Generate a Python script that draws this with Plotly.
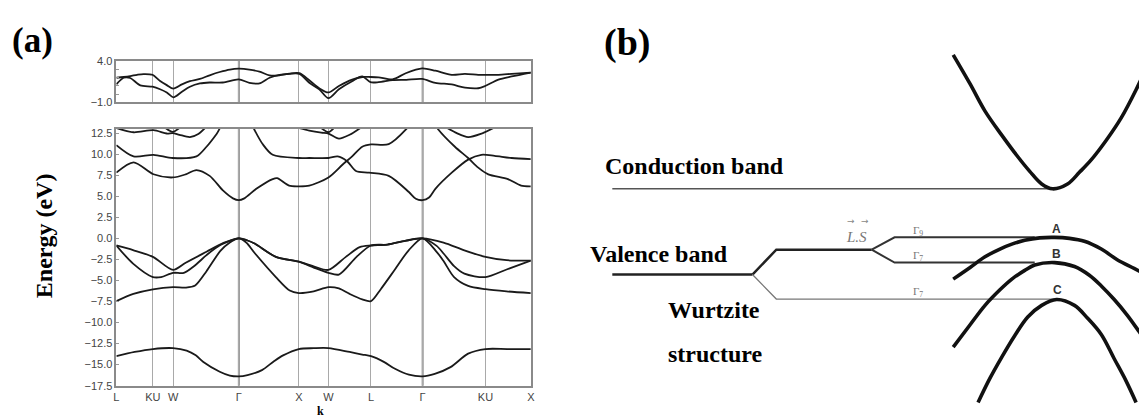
import plotly.graph_objects as go

# ---------------- Panel (a) data ----------------
K_END = 6.574
k_ticks = [0, 0.58, 0.902, 1.942, 2.894, 3.364, 4.039, 4.858, 5.855, 6.574]
k_labels = ["L", "KU", "W", "Γ", "X", "W", "L", "Γ", "KU", "X"]
gamma_k = [1.942, 4.858]

# lower panel: valence s-band
s_k = [0, 0.29, 0.58, 0.90, 1.115, 1.26, 1.38, 1.64, 1.80, 1.942, 2.08, 2.31, 2.50, 2.645, 2.894, 3.13,
       3.364, 3.70, 3.90, 4.039, 4.25, 4.42, 4.64, 4.858, 5.05, 5.30, 5.58, 5.855, 6.20, 6.574]
s_e = [-14.0, -13.5, -13.15, -13.04, -13.34, -13.9, -14.68, -15.84, -16.3, -16.4, -16.25, -15.65, -14.6,
       -13.9, -13.15, -13.05, -13.04, -13.5, -13.8, -14.0, -14.7, -15.5, -16.2, -16.4, -16.1, -15.3,
       -13.7, -13.15, -13.15, -13.15]

v1_k = [0, 0.27, 0.58, 0.90, 1.10, 1.25, 1.43, 1.65, 1.80, 1.942, 2.06, 2.20, 2.53, 2.75, 2.894, 3.13,
        3.364, 3.53, 3.70, 3.90, 4.039, 4.194, 4.416, 4.637, 4.858, 5.08, 5.19, 5.357, 5.58, 5.855, 6.19, 6.574]
v1_e = [-7.46, -6.6, -6.05, -5.8, -5.85, -5.6, -3.9, -1.5, -0.5, 0, -0.5, -1.8, -4.6, -6.2, -6.5, -6.3,
        -5.8, -5.95, -6.6, -7.25, -7.46, -6.04, -3.73, -1.42, 0, -1.6, -2.7, -4.6, -5.65, -6.04, -6.3, -6.5]

v2_k = [0, 0.265, 0.58, 0.71, 0.90, 1.07, 1.25, 1.43, 1.65, 1.942, 2.06, 2.20, 2.53, 2.894, 3.14, 3.364,
        3.53, 3.81, 4.039, 4.30, 4.58, 4.858, 5.08, 5.19, 5.357, 5.52, 5.855, 6.19, 6.574]
v2_e = [-0.85, -3.0, -4.6, -4.6, -4.1, -4.1, -3.2, -2.0, -0.8, 0, -0.2, -0.65, -2.2, -2.77, -3.5, -4.1,
        -4.3, -2.2, -0.85, -0.75, -0.3, 0, -0.9, -1.8, -3.3, -4.2, -4.6, -3.7, -2.65]

v3_k = [0, 0.265, 0.58, 0.90, 1.10, 1.43, 1.70, 1.942, 2.06, 2.20, 2.53, 2.894, 3.14, 3.364, 3.64, 3.86,
        4.039, 4.30, 4.58, 4.858, 5.19, 5.52, 5.855, 6.19, 6.574]
v3_e = [-0.85, -1.4, -2.2, -3.75, -2.9, -1.6, -0.55, 0, -0.2, -0.65, -2.2, -2.77, -3.35, -3.75, -2.2, -1.05,
        -0.85, -0.75, -0.3, 0, -0.5, -1.42, -2.2, -2.6, -2.65]

# lower panel: conduction bands
c1_k = [0, 0.273, 0.589, 0.894, 1.10, 1.27, 1.48, 1.69, 1.85, 1.942, 2.03, 2.22, 2.48, 2.55, 2.74, 2.894,
        3.06, 3.364, 3.59, 3.74, 3.90, 4.039, 4.32, 4.59, 4.70]
c1_e = [7.8, 9.03, 7.61, 7.23, 7.6, 8.11, 7.42, 5.69, 4.75, 4.53, 4.75, 5.88, 7.04, 7.15, 6.26, 6.18,
        6.26, 7.23, 8.77, 9.73, 10.88, 11.15, 11.19, 12.9, 14.0]

c2_k = [0, 0.273, 0.589, 0.894, 1.27, 1.43, 1.59, 1.70, 2.12, 2.19, 2.32, 2.48, 2.894, 3.06, 3.364, 3.51,
        3.66, 3.80, 4.01, 4.32, 4.64, 4.75, 4.858, 4.96, 5.06, 5.32, 5.58, 5.79, 6.0, 6.27, 6.574]
c2_e = [11.07, 9.73, 9.92, 9.54, 9.73, 10.88, 12.4, 13.6, 14.0, 12.9, 11.2, 9.92, 9.54, 9.54, 9.54, 9.73,
        9.16, 8.0, 7.8, 7.42, 5.5, 4.7, 4.53, 4.85, 5.88, 7.8, 9.35, 9.92, 9.8, 9.54, 9.42]

c4_k = [5.02, 5.11, 5.37, 5.58, 5.74, 5.90, 6.21, 6.42, 6.574]
c4_e = [14.0, 12.9, 10.88, 9.54, 8.4, 7.6, 7.04, 6.26, 6.18]

c3a_k = [0, 0.273, 0.589, 0.80, 0.894, 1.0, 1.167, 1.30, 1.42]
c3a_e = [13.1, 12.6, 12.85, 12.45, 12.5, 12.3, 12.03, 12.4, 13.2]
c3b_k = [0.78, 0.894, 1.0]
c3b_e = [13.1, 12.65, 13.1]
c3c_k = [2.90, 3.06, 3.25, 3.364, 3.53, 3.70, 3.87]
c3c_e = [13.1, 12.8, 12.55, 12.45, 11.85, 12.3, 13.1]
c3d_k = [3.25, 3.364, 3.45]
c3d_e = [13.1, 12.6, 13.1]
c3e_k = [5.25, 5.40, 5.58, 5.78, 5.98]
c3e_e = [13.1, 12.5, 12.03, 12.4, 13.1]

# upper small panel
t_hi_k = [0, 0.116, 0.22, 0.33, 0.43, 0.573, 0.694, 0.80, 0.904, 1.04, 1.167, 1.325, 1.48, 1.64, 1.80,
          1.94, 2.11, 2.27, 2.43, 2.587, 2.745, 2.903, 3.06, 3.218, 3.364, 3.53, 3.74, 3.90, 4.03, 4.16,
          4.38, 4.59, 4.85, 5.06, 5.32, 5.53, 5.74, 5.85, 6.06, 6.27, 6.574]
t_hi_e = [2.0, 2.09, 2.2, 2.36, 2.45, 2.36, 1.6, 1.1, 0.68, 1.2, 1.58, 1.85, 2.3, 2.7, 3.0, 3.1, 3.0,
          2.75, 2.3, 2.3, 2.5, 2.55, 1.7, 0.72, 0.21, 1.0, 1.77, 2.09, 2.09, 2.05, 1.8, 2.55, 3.14, 2.86,
          2.36, 2.47, 2.36, 2.36, 2.36, 2.47, 2.63]
t_lo_k = [0, 0.116, 0.22, 0.38, 0.573, 0.694, 0.80, 0.904, 1.04, 1.167, 1.325, 1.48, 1.69, 1.94, 2.11,
          2.27, 2.43, 2.587, 2.745, 2.903, 3.06, 3.218, 3.364, 3.53, 3.74, 3.90, 4.03, 4.16, 4.38, 4.60,
          4.85, 5.06, 5.32, 5.53, 5.74, 5.85, 6.06, 6.27, 6.574]
t_lo_e = [1.2, 2.0, 1.97, 1.07, 0.91, 0.6, 0.2, -0.38, 0.3, 0.9, 1.3, 1.42, 1.42, 1.81, 1.38, 1.3, 2.0,
          2.35, 2.47, 2.47, 1.38, 0.6, -0.49, 0.6, 1.58, 2.16, 1.46, 1.46, 1.7, 1.75, 1.85, 1.38, 1.18,
          0.79, 0.72, 0.99, 1.77, 2.16, 2.63]

e_ticks = [12.5, 10.0, 7.5, 5.0, 2.5, 0.0, -2.5, -5.0, -7.5, -10.0, -12.5, -15.0, -17.5]
top_ticks = [-1, 4]
top_labels = ["−1.0", "4.0"]
top_minor_ticks = [0, 1, 2, 3]

# ---------------- Panel (b) schematic (drawing units) ----------------
cb_level_x = [605, 1048]
cb_level_y = [180, 180]
cb_curve_x = [948, 965, 980, 997, 1013, 1025, 1037, 1048, 1063, 1075, 1087, 1102, 1117, 1132, 1147]
cb_curve_y = [42, 72, 100, 125, 147, 162, 175, 180, 175, 163, 150, 130, 107, 78, 45]

vb_left_x = [605, 746]
vb_left_y = [268.3, 268.3]
vb_up_x = [746, 770, 866]
vb_up_y = [268.3, 242.7, 242.7]
g9_x = [866, 889, 1030]
g9_y = [242.7, 230, 230]
g7a_x = [866, 889, 1030]
g7a_y = [242.7, 256, 256]
g7b_x = [746, 770, 1050]
g7b_y = [268.3, 293.5, 293.5]

a_x = [948, 965, 980, 995, 1007, 1020, 1035, 1050, 1065, 1080, 1097, 1113, 1130, 1147]
a_y = [273, 261, 250, 242, 237, 233, 230.5, 230, 231, 234, 242, 253, 262, 271]
b_x = [948, 965, 980, 995, 1007, 1020, 1030, 1050, 1070, 1085, 1097, 1110, 1123, 1135, 1147]
b_y = [343, 320, 300, 284, 273, 264, 258.5, 256, 260, 269, 280, 294, 310, 327, 345]
c_x = [973, 985, 997, 1010, 1023, 1037, 1052, 1070, 1083, 1097, 1110, 1122, 1132]
c_y = [400, 375, 353, 331, 312, 300, 294, 300, 313, 330, 355, 378, 400]

W, H = 1147, 416
BAND = "#1a1a1a"
SERIF = "Liberation Serif, Times New Roman, serif"
SANS = "Liberation Sans, Arial, sans-serif"

fig = go.Figure()


def band(k, e, xa, ya):
    fig.add_trace(go.Scatter(x=k, y=e, mode="lines", xaxis=xa, yaxis=ya,
                             line=dict(color=BAND, width=1.8, shape="spline", smoothing=0.8),
                             hoverinfo="skip", showlegend=False))


for kk, ee in [(s_k, s_e), (v1_k, v1_e), (v2_k, v2_e), (v3_k, v3_e), (c1_k, c1_e), (c2_k, c2_e),
               (c4_k, c4_e), (c3a_k, c3a_e), (c3b_k, c3b_e), (c3c_k, c3c_e), (c3d_k, c3d_e),
               (c3e_k, c3e_e)]:
    band(kk, ee, "x", "y")
for kk, ee in [(t_hi_k, t_hi_e), (t_lo_k, t_lo_e)]:
    band(kk, ee, "x2", "y2")


def line_b(x, y, width, color, spline=False):
    fig.add_trace(go.Scatter(x=x, y=y, mode="lines", xaxis="x3", yaxis="y3",
                             line=dict(color=color, width=width,
                                       shape="spline" if spline else "linear"),
                             hoverinfo="skip", showlegend=False))


line_b(cb_level_x, cb_level_y, 1.5, "#555555")
line_b(vb_left_x, vb_left_y, 2.5, "#222222")
line_b(vb_up_x, vb_up_y, 2.5, "#222222")
line_b(g9_x, g9_y, 2.0, "#333333")
line_b(g7a_x, g7a_y, 2.0, "#333333")
line_b(g7b_x, g7b_y, 1.3, "#777777")
for xx, yy in [(cb_curve_x, cb_curve_y), (a_x, a_y), (b_x, b_y), (c_x, c_y)]:
    line_b(xx, yy, 3.6, "#111111", spline=True)

x_dom = [106 / W, 523 / W]
frame = dict(showline=True, linecolor="#8a8a8a", linewidth=1.5, mirror=True, zeroline=False)

fig.update_layout(
    width=W, height=H, margin=dict(l=0, r=0, t=0, b=0),
    paper_bgcolor="white", plot_bgcolor="white", showlegend=False,
    xaxis=dict(domain=x_dom, range=[0, K_END], anchor="y", tickvals=k_ticks, ticktext=k_labels,
               showgrid=True, gridcolor="#a9a9a9", gridwidth=1.3, ticks="",
               tickfont=dict(family=SANS, size=11, color="#444"), **frame),
    yaxis=dict(domain=[1 - 382.7 / H, 1 - 118.3 / H], range=[-17.5, 13.0], anchor="x",
               tickvals=e_ticks, tickformat=".1f", showgrid=False, ticks="inside", ticklen=3,
               tickcolor="#999",
               tickfont=dict(family=SANS, size=11, color="#444"), **frame),
    xaxis2=dict(domain=x_dom, range=[0, K_END], anchor="y2", tickvals=k_ticks, showticklabels=False,
                showgrid=True, gridcolor="#a9a9a9", gridwidth=1.3, ticks="", **frame),
    yaxis2=dict(domain=[1 - 91 / H, 1 - 48.3 / H], range=[-1, 4.05], anchor="x2",
                tickvals=top_ticks, ticktext=top_labels, showgrid=False, ticks="inside", ticklen=3,
                tickcolor="#999",
                minor=dict(tickmode="array", tickvals=top_minor_ticks, ticks="inside", ticklen=3,
                           tickcolor="#999", showgrid=False),
                tickfont=dict(family=SANS, size=11, color="#444"), **frame),
    xaxis3=dict(domain=[580 / W, 1], range=[580, 1147], anchor="y3", visible=False),
    yaxis3=dict(domain=[0, 1], range=[416, 0], anchor="x3", visible=False),
)

shapes = []
for g in gamma_k:
    for yref in ["y domain", "y2 domain"]:
        shapes.append(dict(type="line", xref="x" if yref == "y domain" else "x2", yref=yref,
                           x0=g, x1=g, y0=0, y1=1, line=dict(color="#707070", width=1.8),
                           layer="below"))
fig.update_layout(shapes=shapes)


def ann(text, x, y, size, family=SERIF, color="black", angle=0, xanchor="center"):
    fig.add_annotation(text=text, x=x / W, y=1 - y / H, xref="paper", yref="paper", showarrow=False,
                       font=dict(family=family, size=size, color=color), textangle=angle,
                       xanchor=xanchor, yanchor="middle", borderpad=0)


ann("<b>(a)</b>", 0, 27, 35, xanchor="left")
ann("<b>(b)</b>", 596, 29, 38, xanchor="left")
ann("<b>Energy (eV)</b>", 34, 228, 24, angle=-90)
ann("<b>k</b>", 311, 409, 12)
ann("<b>Conduction band</b>", 597, 157, 24, xanchor="left")
ann("<b>Valence band</b>", 582, 247, 24, xanchor="left")
ann("<b>Wurtzite</b>", 660, 305, 24, xanchor="left")
ann("<b>structure</b>", 660, 350, 24, xanchor="left")
ann("<i>L.S</i>", 851, 230, 15, color="#777")
ann("→", 845, 213, 9, family="DejaVu Sans", color="#888")
ann("→", 859, 213, 9, family="DejaVu Sans", color="#888")
ann("Γ<sub>9</sub>", 913, 223, 11, color="#777")
ann("Γ<sub>7</sub>", 913, 249, 11, color="#777")
ann("Γ<sub>7</sub>", 913, 286, 11, color="#777")
ann("<b>A</b>", 1052, 221, 12, family=SANS, color="#333")
ann("<b>B</b>", 1052, 247, 12, family=SANS, color="#333")
ann("<b>C</b>", 1053, 284, 12, family=SANS, color="#333")

fig.write_html("out.html")
